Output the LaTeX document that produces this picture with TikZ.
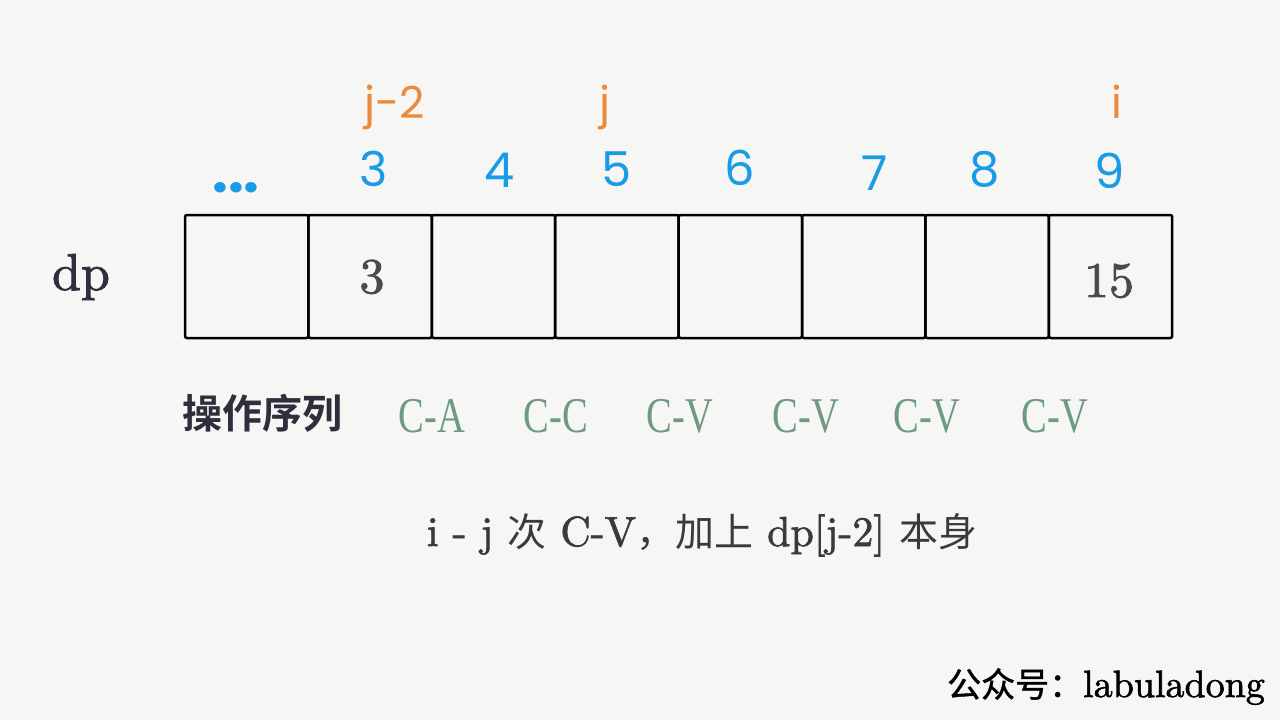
\documentclass[tikz,border=0pt]{standalone}
\usepackage{fontspec}
\newfontfamily\cjk{Noto Sans CJK SC}
\newfontfamily\cjkm[FakeBold=1.2]{Noto Sans CJK SC}
\newfontfamily\cjkb{Noto Sans CJK SC Bold}
\newfontfamily\hand{Poppins}
\newfontfamily\tms{Liberation Serif}
\newfontfamily\lmb[Extension=.otf, FakeBold=1.6]{lmroman10-regular}
\definecolor{bg}{HTML}{F6F6F4}
\definecolor{idxblue}{HTML}{1A9BE6}
\definecolor{ptrorange}{HTML}{EB8A3A}
\definecolor{opgreen}{HTML}{6E9985}
\definecolor{darktxt}{HTML}{2E2E3C}
\definecolor{valgray}{HTML}{4A4A4A}
\definecolor{capgray}{HTML}{3A3A3A}
\newcommand{\fs}[1]{\fontsize{#1}{#1}\selectfont}
\tikzset{
  cell/.style={draw=black, line width=2.5pt, rounded corners=2pt, minimum width=123.4pt, minimum height=123pt, inner sep=0pt},
  idx/.style={anchor=base, text=idxblue, font=\hand\fs{48}, inner sep=0pt},
  ptr/.style={anchor=base, text=ptrorange, font=\hand\fs{44}, inner sep=0pt},
  val/.style={anchor=base, text=valgray, font=\lmb\fs{50}, inner sep=0pt},
  op/.style={anchor=base, text=opgreen, font=\tms\fs{50}, xscale=0.77, inner sep=0pt},
}
\begin{document}
\begin{tikzpicture}[x=1pt,y=-1pt]
\fill[bg] (0,0) rectangle (1280,720);
\useasboundingbox (0,0) rectangle (1280,720);
% cells
\foreach \k in {0,...,7} {
  \node[cell] (c\k) at ({246.7+123.4*\k}, 276.5) {};
}
% values
\node[val] (v1) at (372,293) {3};
\node[val] (v7) at (1109,297) {15};
% dp label
\node[anchor=base, text=darktxt, font=\lmb\fs{52}, inner sep=0pt] (dp) at (81,290) {dp};
% index labels
\node[idx, font=\hand\bfseries\fs{56}] (dots) at (236,192) {...};
\node[idx] (i3) at (374,186) {3};
\node[idx] (i4) at (500,187) {4};
\node[idx] (i5) at (617,186) {5};
\node[idx] (i6) at (740,185) {6};
\node[idx] (i7) at (875,190) {7};
\node[idx] (i8) at (985,186) {8};
\node[idx] (i9) at (1110,188) {9};
% pointers
\node[ptr] (pj2) at (395,118) {j-2};
\node[ptr] (pj) at (605,118) {j};
\node[ptr] (pi) at (1117,118) {i};
% operation sequence
\node[anchor=base, text=darktxt, font=\cjkb\fs{40}, inner sep=0pt] (ops) at (262,428) {操作序列};
\node[op] (o1) at (432,432) {C-A};
\node[op] (o2) at (556,432) {C-C};
\node[op] (o3) at (680,432) {C-V};
\node[op] (o4) at (806,432) {C-V};
\node[op] (o5) at (927,432) {C-V};
\node[op] (o6) at (1055,432) {C-V};
% caption
\node[anchor=base, text=capgray, font=\lmb\fs{42}, inner sep=0pt] (cap) at (702,546)
  {i - j {\cjk\fs{39}次} C-V{\cjk\fs{39}，加上} dp[j-2] {\cjk\fs{39}本身}};
% signature
\node[anchor=base, text=black, inner sep=0pt] (sig) at (1106,697)
  {{\cjkm\fs{34}公众号：}{\lmb\fs{38}labuladong}};
\end{tikzpicture}
\end{document}
